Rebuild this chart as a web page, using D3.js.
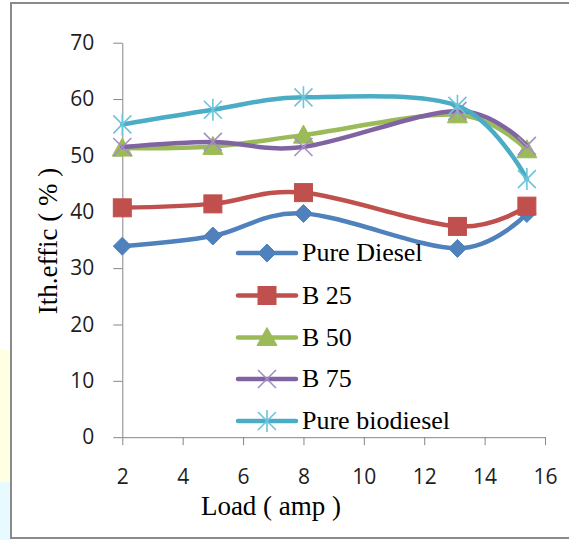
<!DOCTYPE html>
<html>
<head>
<meta charset="utf-8">
<script src="https://cdn.jsdelivr.net/npm/d3@7"></script>
<style>
  html, body { margin: 0; padding: 0; background: #fff; }
  svg { display: block; }
</style>
</head>
<body>
<div id="chart"></div>
<script>
// chart values
const loads = [2, 5, 8, 13.1, 15.4];
const pureDiesel = [33.9, 35.7, 39.7, 33.5, 39.7];
const b25 = [40.7, 41.4, 43.4, 37.4, 41.0];
const b50 = [51.3, 51.6, 53.6, 57.2, 51.0];
const b75 = [51.5, 52.4, 51.5, 57.9, 51.7];
const pureBiodiesel = [55.5, 58.1, 60.3, 58.8, 45.8];
const seriesNames = ["Pure Diesel", "B 25", "B 50", "B 75", "Pure biodiesel"];
const xTicks = [2, 4, 6, 8, 10, 12, 14, 16];
const yTicks = [0, 10, 20, 30, 40, 50, 60, 70];

const W = 569, H = 540;
const colors = ["#4F81BD", "#C0504D", "#9BBB59", "#8064A2", "#4BACC6"];
const markerKinds = ["diamond", "square", "triangle", "x", "star"];
const values = [pureDiesel, b25, b50, b75, pureBiodiesel];

const svg = d3.select("#chart").append("svg")
    .attr("width", W)
    .attr("height", H);

// slide background bits left of the frame
svg.append("rect").attr("x", 0).attr("y", 350).attr("width", 11).attr("height", 132).attr("fill", "#FFFFE2");
svg.append("rect").attr("x", 0).attr("y", 482).attr("width", 11).attr("height", 58).attr("fill", "#E6FAFF");

// chart frame
svg.append("rect")
    .attr("x", 11).attr("y", 3)
    .attr("width", 620).attr("height", 535)
    .attr("fill", "#fff")
    .attr("stroke", "#8a8a8a")
    .attr("stroke-width", 2);

const x = d3.scaleLinear().domain([2, 16]).range([122.3, 545]);
const y = d3.scaleLinear().domain([0, 70]).range([437.2, 42.7]);

const tickFont = '"Open Sans"';
const serif = '"Liberation Serif"';

// y axis
const yAxis = svg.append("g")
    .attr("transform", `translate(${x(2)},0)`)
    .call(d3.axisLeft(y).tickValues(yTicks).tickSize(9).tickPadding(19).tickSizeOuter(0));
yAxis.select(".domain").attr("stroke", "#868686");
yAxis.selectAll(".tick line").attr("stroke", "#868686");
yAxis.selectAll(".tick text")
    .style("font-family", tickFont)
    .attr("font-size", 21)
    .attr("fill", "#1e1e1e");

// x axis
const xAxis = svg.append("g")
    .attr("transform", `translate(0,${y(0)})`)
    .call(d3.axisBottom(x).tickValues(xTicks).tickSize(8).tickPadding(24).tickSizeOuter(0));
xAxis.select(".domain").attr("stroke", "#868686");
xAxis.selectAll(".tick line").attr("stroke", "#868686");
xAxis.selectAll(".tick text")
    .style("font-family", tickFont)
    .attr("font-size", 21)
    .attr("fill", "#1e1e1e");

// axis titles
svg.append("text")
    .attr("transform", "translate(57,241) rotate(-90)")
    .attr("text-anchor", "middle")
    .style("font-family", serif)
    .attr("font-size", 27)
    .attr("fill", "#000")
    .text("Ith.effic ( % )");

svg.append("text")
    .attr("x", 271).attr("y", 515)
    .attr("text-anchor", "middle")
    .style("font-family", serif)
    .attr("font-size", 27)
    .attr("fill", "#000")
    .text("Load ( amp )");

// markers
const drawMarker = (g, kind, color, cx, cy) => {
  if (kind === "diamond") {
    g.append("path").attr("d", `M${cx},${cy - 9}L${cx + 9},${cy}L${cx},${cy + 9}L${cx - 9},${cy}Z`)
        .attr("fill", color).attr("stroke", color).attr("stroke-width", 1);
  } else if (kind === "square") {
    g.append("rect").attr("x", cx - 9).attr("y", cy - 9).attr("width", 18).attr("height", 18)
        .attr("fill", color).attr("stroke", color).attr("stroke-width", 1);
  } else if (kind === "triangle") {
    g.append("path").attr("d", `M${cx},${cy - 10}L${cx + 10},${cy + 8}L${cx - 10},${cy + 8}Z`)
        .attr("fill", color).attr("stroke", color).attr("stroke-width", 1);
  } else if (kind === "x") {
    g.append("path").attr("d", `M${cx - 9},${cy - 9}L${cx + 9},${cy + 9}M${cx - 9},${cy + 9}L${cx + 9},${cy - 9}`)
        .attr("stroke", "#A58FC2").attr("stroke-width", 1.6).attr("fill", "none");
  } else {
    g.append("path").attr("d", `M${cx - 9},${cy - 9}L${cx + 9},${cy + 9}M${cx - 9},${cy + 9}L${cx + 9},${cy - 9}M${cx},${cy - 11}L${cx},${cy + 11}`)
        .attr("stroke", "#6CC4DB").attr("stroke-width", 1.6).attr("fill", "none");
  }
};

const line = d3.line()
    .x(d => x(d[0]))
    .y(d => y(d[1]))
    .curve(d3.curveCardinal.tension(0));

values.forEach((vals, i) => {
  const pts = loads.map((l, j) => [l, vals[j]]);
  const g = svg.append("g");
  g.append("path")
      .attr("d", line(pts))
      .attr("fill", "none")
      .attr("stroke", colors[i])
      .attr("stroke-width", 4.5)
      .attr("stroke-linecap", "round");
  pts.forEach(p => drawMarker(g, markerKinds[i], colors[i], x(p[0]), y(p[1])));
});

// legend
const legendY = [253, 295.5, 337.5, 379, 421];
seriesNames.forEach((name, i) => {
  const g = svg.append("g");
  g.append("line")
      .attr("x1", 238).attr("x2", 296)
      .attr("y1", legendY[i]).attr("y2", legendY[i])
      .attr("stroke", colors[i])
      .attr("stroke-width", 4.5)
      .attr("stroke-linecap", "round");
  drawMarker(g, markerKinds[i], colors[i], 267, legendY[i]);
  g.append("text")
      .attr("x", 302).attr("y", legendY[i] + 8)
      .style("font-family", serif)
      .attr("font-size", 26)
      .attr("fill", "#000")
      .text(name);
});
</script>
</body>
</html>
